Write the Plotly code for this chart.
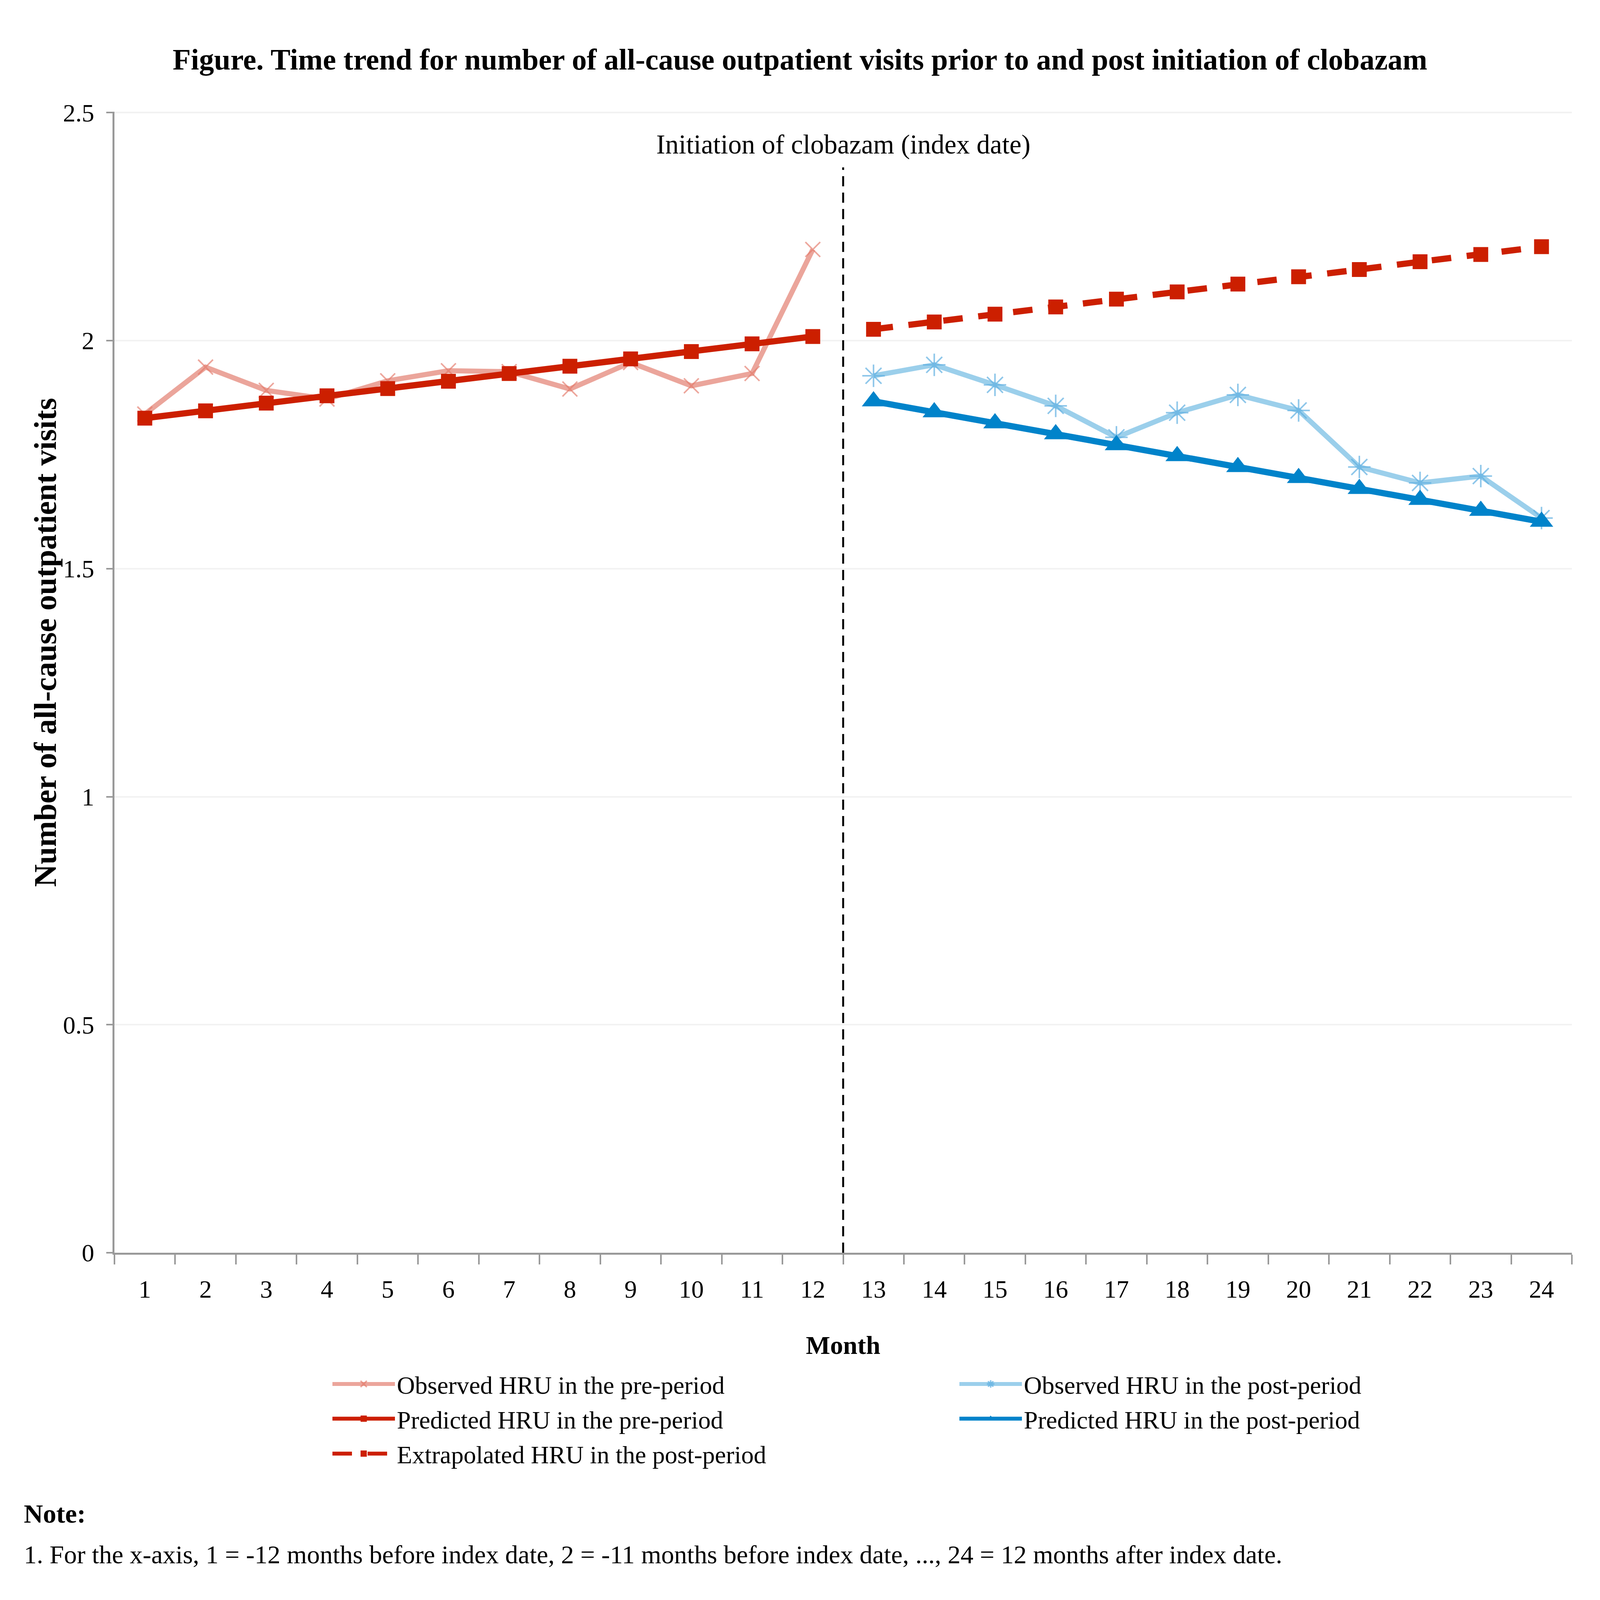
import plotly.graph_objects as go

# ---------------- data ----------------
months_pre = [str(m) for m in range(1, 13)]
months_post = [str(m) for m in range(13, 25)]
all_months = months_pre + months_post

observed_pre = [1.839, 1.942, 1.891, 1.872, 1.912, 1.934, 1.932, 1.894, 1.952, 1.901, 1.928, 2.200]
predicted_pre = [1.830, 1.846, 1.863, 1.879, 1.895, 1.911, 1.928, 1.944, 1.960, 1.976, 1.993, 2.009]
extrapolated_post = [2.025, 2.041, 2.058, 2.074, 2.091, 2.107, 2.124, 2.140, 2.156, 2.173, 2.189, 2.206]
observed_post = [1.923, 1.947, 1.903, 1.857, 1.788, 1.842, 1.881, 1.847, 1.723, 1.688, 1.703, 1.611]
predicted_post = [1.867, 1.843, 1.819, 1.795, 1.771, 1.747, 1.723, 1.699, 1.675, 1.651, 1.627, 1.603]

y_ticks = [0, 0.5, 1, 1.5, 2, 2.5]
index_month_last_pre = "12"

title_text = "Figure. Time trend for number of all-cause outpatient visits prior to and post initiation of clobazam"
y_title = "Number of all-cause outpatient visits"
x_title = "Month"
index_label = "Initiation of clobazam (index date)"
note_title = "Note:"
note_text = ("1. For the x-axis, 1 = -12 months before index date, 2 = -11 months before index date, ..., "
             "24 = 12 months after index date.")

FONT = "Liberation Serif, Times New Roman, serif"

C_OBS_PRE = "#EBA59B"
C_OBS_PRE_MK = "rgba(228,120,105,0.65)"
C_PRED_PRE = "#CC1F00"
C_OBS_POST = "#9BCFEB"
C_OBS_POST_MK = "rgba(95,175,225,0.7)"
C_PRED_POST = "#0083CA"
C_AXIS = "#999999"

fig = go.Figure()

fig.add_trace(go.Scatter(
    x=months_pre, y=observed_pre, name="Observed HRU in the pre-period",
    mode="lines+markers", legend="legend",
    line=dict(color=C_OBS_PRE, width=13),
    marker=dict(symbol="x-thin-open", size=38, color=C_OBS_PRE_MK,
                line=dict(color=C_OBS_PRE_MK, width=4)),
))
fig.add_trace(go.Scatter(
    x=months_pre, y=predicted_pre, name="Predicted HRU in the pre-period",
    mode="lines+markers", legend="legend2",
    line=dict(color=C_PRED_PRE, width=16),
    marker=dict(symbol="square", size=38, color=C_PRED_PRE),
))
fig.add_trace(go.Scatter(
    x=months_post, y=extrapolated_post, name="Extrapolated HRU in the post-period",
    mode="lines+markers", legend="legend3",
    line=dict(color=C_PRED_PRE, width=16, dash="50px,40px"),
    marker=dict(symbol="square", size=38, color=C_PRED_PRE),
))
fig.add_trace(go.Scatter(
    x=months_post, y=observed_post, name="Observed HRU in the post-period",
    mode="lines+markers", legend="legend4",
    line=dict(color=C_OBS_POST, width=13),
    marker=dict(symbol="asterisk-open", size=48, color=C_OBS_POST_MK,
                line=dict(color=C_OBS_POST_MK, width=4)),
))
fig.add_trace(go.Scatter(
    x=months_post, y=predicted_post, name="Predicted HRU in the post-period",
    mode="lines+markers", legend="legend5",
    line=dict(color=C_PRED_POST, width=16),
    marker=dict(symbol="triangle-up", size=52, color=C_PRED_POST),
))

# index date reference line between month 12 and 13
idx_pos = all_months.index(index_month_last_pre) + 0.5
fig.add_shape(type="line", xref="x", yref="y", x0=idx_pos, x1=idx_pos, y0=0, y1=2.38,
              line=dict(color="black", width=5, dash="26px,16px"))
fig.add_annotation(x=idx_pos, y=2.43, xref="x", yref="y", text=index_label, showarrow=False,
                   xanchor="center", yanchor="middle", font=dict(family=FONT, size=69, color="black"))

# axis titles
fig.add_annotation(x=-0.0474, y=0.535, xref="paper", yref="paper", text="<b>" + y_title + "</b>",
                   textangle=-90, showarrow=False, xanchor="center", yanchor="middle",
                   font=dict(family=FONT, size=80, color="black"))
fig.add_annotation(x=0.5, y=-0.0808, xref="paper", yref="paper", text="<b>" + x_title + "</b>",
                   showarrow=False, xanchor="center", yanchor="middle",
                   font=dict(family=FONT, size=66, color="black"))

# note
fig.add_annotation(x=-0.0628, y=-0.2286, xref="paper", yref="paper", text="<b>" + note_title + "</b>",
                   showarrow=False, xanchor="left", yanchor="middle",
                   font=dict(family=FONT, size=68, color="black"))
fig.add_annotation(x=-0.0628, y=-0.2643, xref="paper", yref="paper", text=note_text,
                   showarrow=False, xanchor="left", yanchor="middle",
                   font=dict(family=FONT, size=66, color="black"))

def legend_cfg(x, y):
    return dict(xref="container", yref="container", x=x, y=y, xanchor="left", yanchor="middle",
                bgcolor="rgba(0,0,0,0)", borderwidth=0, itemwidth=160,
                font=dict(family=FONT, size=64, color="black"))

fig.update_layout(
    autosize=True,
    margin=dict(l=285, r=64, t=278, b=881, autoexpand=False),
    paper_bgcolor="white", plot_bgcolor="white",
    font=dict(family=FONT, size=64, color="black"),
    title=dict(text="<b>" + title_text + "</b>", xref="container", yref="container",
               x=0.5, y=0.9648, xanchor="center", yanchor="middle",
               font=dict(family=FONT, size=76, color="black")),
    showlegend=True,
    legend=legend_cfg(0.2054, 0.1335),
    legend2=legend_cfg(0.2054, 0.1117),
    legend3=legend_cfg(0.2054, 0.0898),
    legend4=legend_cfg(0.5988, 0.1335),
    legend5=legend_cfg(0.5988, 0.1117),
    xaxis=dict(
        type="category", categoryorder="array", categoryarray=all_months,
        range=[-0.5, len(all_months) - 0.5], automargin=False, tickangle=0,
        showgrid=False, zeroline=False,
        showline=True, linecolor=C_AXIS, linewidth=5,
        ticks="outside", tickson="boundaries", ticklen=25, tickwidth=4, tickcolor=C_AXIS,
        ticklabelstandoff=33,
        tickfont=dict(family=FONT, size=64, color="black"),
    ),
    yaxis=dict(
        range=[0, 2.502], tickmode="array", tickvals=y_ticks, automargin=False,
        showgrid=True, gridcolor="#F2F2F2", gridwidth=4,
        zeroline=False, showline=True, linecolor=C_AXIS, linewidth=5,
        ticks="outside", ticklen=16, tickwidth=4, tickcolor=C_AXIS,
        ticklabelstandoff=18,
        tickfont=dict(family=FONT, size=64, color="black"),
    ),
)

fig.write_html("out.html", default_width="100%", default_height="100%")
